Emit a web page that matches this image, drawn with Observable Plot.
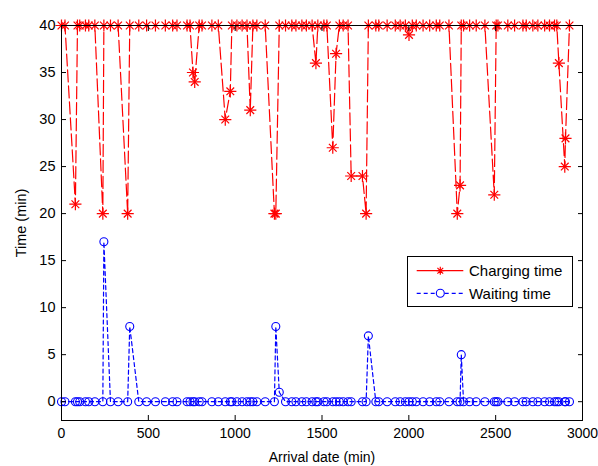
<!DOCTYPE html>
<html><head><meta charset="utf-8">
<script src="https://cdn.jsdelivr.net/npm/d3@7"></script>
<script src="https://cdn.jsdelivr.net/npm/@observablehq/plot@0.6"></script>
<style>
body{margin:0;background:#fff;}
#wrap{position:relative;width:598px;height:466px;font-family:Arial,"Liberation Sans",sans-serif;}
#legend{position:absolute;left:407px;top:256px;}
</style></head><body><div id="wrap"></div>
<script>
const arrival = [0,20,80,92,105,138,157,192,238,244,282,326,381,393,445,490,541,598,640,665,723,740,757,767,793,809,866,903,943,972,981,1010,1040,1068,1087,1102,1125,1173,1226,1234,1254,1290,1326,1350,1384,1410,1443,1465,1476,1511,1528,1562,1581,1600,1622,1650,1668,1733,1754,1767,1810,1827,1875,1922,1950,1980,2001,2020,2043,2082,2120,2158,2178,2231,2279,2295,2302,2315,2350,2388,2438,2492,2503,2513,2570,2609,2657,2676,2714,2743,2782,2810,2839,2852,2864,2898,2902,2925];
const charging = [40,40,21,40,40,40,40,40,20,40,40,40,20,40,40,40,40,40,40,40,40,40,35,34,40,40,40,40,30,33,40,40,40,40,31,40,40,40,20,20,40,40,40,40,40,40,40,36,40,40,40,27,37,40,40,40,24,24,20,40,40,40,40,40,40,40,39,40,40,40,40,40,40,40,20,23,40,40,40,40,40,22,40,40,40,40,40,40,40,40,40,40,40,40,36,25,28,40];
const waiting = [0,0,0,0,0,0,0,0,0,17,0,0,0,8,0,0,0,0,0,0,0,0,0,0,0,0,0,0,0,0,0,0,0,0,0,0,0,0,0,8,1,0,0,0,0,0,0,0,0,0,0,0,0,0,0,0,0,0,0,7,0,0,0,0,0,0,0,0,0,0,0,0,0,0,0,0,5,0,0,0,0,0,0,0,0,0,0,0,0,0,0,0,0,0,0,0,0,0];
const xTicks = [0,500,1000,1500,2000,2500,3000];
const yTicks = [0,5,10,15,20,25,30,35,40];
const seriesNames = ["Charging time","Waiting time"];
const xLabel = "Arrival date (min)";
const yLabel = "Time (min)";

const data = arrival.map((t,i)=>({t, c: charging[i], w: waiting[i]}));
const RED = "#ff0000", BLUE = "#0000ff";
const fmt = d3.format("d");

const chart = Plot.plot({
  width:598, height:466, marginLeft:61, marginRight:16, marginTop:25, marginBottom:46,
  style:{fontFamily:"Arial, 'Liberation Sans', sans-serif", fontSize:"14px", background:"#fff", color:"#000", overflow:"visible"},
  x:{domain:[0,3000]},
  y:{domain:[-2,40]},
  marks:[
    Plot.line(data,{x:"t",y:"c",stroke:RED,strokeWidth:1.2,strokeDasharray:"12,4"}),
    Plot.dot(data,{x:"t",y:"c",symbol:"plus",r:4,stroke:RED,strokeWidth:1.2}),
    Plot.dot(data,{x:"t",y:"c",symbol:"times",r:3.6,stroke:RED,strokeWidth:1.2}),
    Plot.line(data,{x:"t",y:"w",stroke:BLUE,strokeWidth:1.2,strokeDasharray:"4,3"}),
    Plot.dot(data,{x:"t",y:"w",r:4,stroke:BLUE,fill:"none",strokeWidth:1.1}),
    Plot.frame({stroke:"#000"}),
    Plot.axisX(xTicks,{anchor:"bottom", tickSize:-5, tickPadding:13, tickFormat:fmt, label:xLabel, labelArrow:"none", labelAnchor:"center", labelOffset:41, fontSize:14}),
    Plot.axisX(xTicks,{anchor:"top", tickSize:-5, tickFormat:()=>"", label:null}),
    Plot.axisY(yTicks,{anchor:"left", tickSize:-5, tickPadding:11, tickFormat:fmt, label:yLabel, labelArrow:"none", labelAnchor:"center", labelOffset:46, fontSize:14.5}),
    Plot.axisY(yTicks,{anchor:"right", tickSize:-5, tickFormat:()=>"", label:null})
  ]
});
const wrap = document.getElementById("wrap");
wrap.appendChild(chart);

// legend
const lw = 166, lh = 51;
const leg = d3.select(wrap).append("svg").attr("id","legend").attr("width",lw).attr("height",lh);
leg.append("rect").attr("x",0.5).attr("y",0.5).attr("width",lw-1).attr("height",lh-1).attr("fill","#fff").attr("stroke","#000");
const rows = [{name:seriesNames[0], color:RED, dash:null, marker:"star", y:14.7},
              {name:seriesNames[1], color:BLUE, dash:"4,3", marker:"circle", y:37.3}];
rows.forEach(r=>{
  leg.append("line").attr("x1",9.7).attr("x2",56.3).attr("y1",r.y).attr("y2",r.y)
     .attr("stroke",r.color).attr("stroke-width",1.2).attr("stroke-dasharray",r.dash);
  if(r.marker==="star"){
    const s=4, d=s*0.72;
    leg.append("path").attr("d",`M${33.3-s},${r.y}H${33.3+s}M33.3,${r.y-s}V${r.y+s}M${33.3-d},${r.y-d}L${33.3+d},${r.y+d}M${33.3-d},${r.y+d}L${33.3+d},${r.y-d}`)
       .attr("stroke",r.color).attr("stroke-width",1.2).attr("fill","none");
  } else {
    leg.append("circle").attr("cx",33.3).attr("cy",r.y).attr("r",4).attr("fill","#fff").attr("stroke",r.color).attr("stroke-width",1.1);
  }
  leg.append("text").attr("x",62).attr("y",r.y).attr("dy","0.35em").attr("font-size","15px")
     .attr("font-family","Arial, 'Liberation Sans', sans-serif").text(r.name);
});
</script></body></html>
